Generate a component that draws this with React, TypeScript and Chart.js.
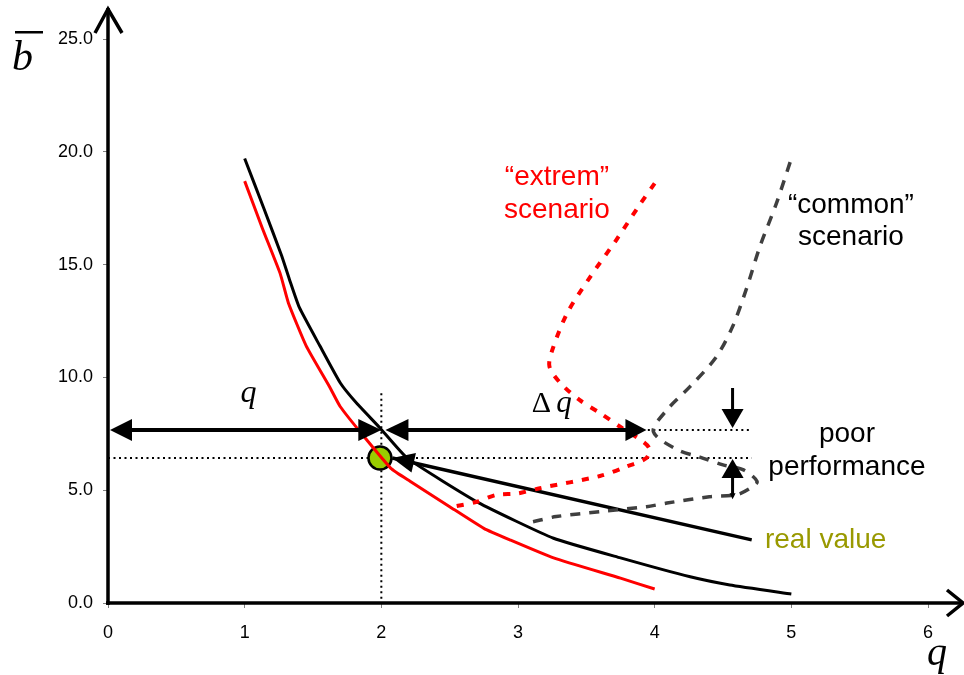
import React, { useEffect, useRef } from "react";
import { Chart, registerables } from "chart.js";

Chart.register(...registerables);

// Axis ranges and tick values
const xTicks = [0, 1, 2, 3, 4, 5, 6];
const yTicks = [0, 5, 10, 15, 20, 25];

// Main iso-curve (black)
const mainQ = [1.0, 1.14, 1.27, 1.33, 1.4, 1.55, 1.7, 1.82, 1.99, 2.19, 2.71, 3.26, 3.75, 4.26, 4.55, 5.0];
const mainB = [19.7, 17.5, 15.4, 14.3, 13.1, 11.4, 9.75, 8.85, 7.76, 6.42, 4.45, 2.87, 2.0, 1.16, 0.8, 0.4];

// Lower curve (red)
const lowQ = [1.0, 1.13, 1.26, 1.32, 1.45, 1.62, 1.7, 1.87, 2.07, 2.21, 2.5, 2.75, 2.94, 3.26, 3.75, 4.0];
const lowB = [18.7, 16.6, 14.6, 13.3, 11.4, 9.6, 8.7, 7.4, 5.97, 5.4, 4.27, 3.31, 2.8, 2.0, 1.1, 0.62];

// Real value line
const realQ = [2.08, 4.71];
const realB = [6.43, 2.8];

// "extrem" scenario (red dashed)
const extremQ = [4.0, 3.89, 3.72, 3.53, 3.36, 3.25, 3.23, 3.31, 3.45, 3.6, 3.75, 3.88, 3.96, 3.94, 3.79, 3.6, 3.16, 3.0, 2.84, 2.7, 2.53];
const extremB = [18.6, 17.65, 16.1, 14.47, 12.85, 11.2, 10.48, 9.75, 9.0, 8.42, 7.8, 7.3, 6.87, 6.43, 6.04, 5.63, 5.09, 4.86, 4.79, 4.49, 4.27];

// "common" scenario (grey dashed)
const commonQ = [3.11, 3.28, 3.6, 3.94, 4.09, 4.4, 4.6, 4.7, 4.75, 4.65, 4.5, 4.33, 4.17, 3.99, 4.09, 4.26, 4.45, 4.57, 4.67, 4.77, 4.89, 5.0];
const commonB = [3.6, 3.83, 4.05, 4.27, 4.43, 4.71, 4.8, 5.09, 5.38, 5.9, 6.12, 6.47, 6.78, 7.6, 8.56, 9.6, 10.9, 12.25, 13.9, 15.8, 17.7, 19.7];

// Operating point
const pointQ = [1.99];
const pointB = [6.43];

// Reference levels
const qLevel = 2.0;
const bTarget = 7.67;
const bReal = 6.43;
const qScenario = 3.95;
const gapQ = 4.57;
const guideEndQ = 4.71;

const SANS = '"Liberation Sans", Arial, sans-serif';
const SERIF = '"Liberation Serif", "Times New Roman", serif';

const toPts = (xs: number[], ys: number[]) => xs.map((x, i) => ({ x, y: ys[i] }));

function headAt(ctx: CanvasRenderingContext2D, tx: number, ty: number, ang: number, len: number, half: number) {
  const c = Math.cos(ang), s = Math.sin(ang);
  ctx.beginPath();
  ctx.moveTo(tx, ty);
  ctx.lineTo(tx - len * c - half * s, ty - len * s + half * c);
  ctx.lineTo(tx - len * c + half * s, ty - len * s - half * c);
  ctx.closePath();
  ctx.fill();
}

const overlay = {
  id: "overlay",
  beforeDatasetsDraw(chart: any) {
    const { ctx, scales } = chart;
    const X = (v: number) => scales.x.getPixelForValue(v);
    const Y = (v: number) => scales.y.getPixelForValue(v);
    ctx.save();
    ctx.strokeStyle = "#000";
    ctx.lineWidth = 2;
    ctx.setLineDash([2, 3.5]);
    ctx.beginPath();
    ctx.moveTo(X(0), Y(bReal));
    ctx.lineTo(X(guideEndQ), Y(bReal));
    ctx.moveTo(X(qScenario), Y(bTarget));
    ctx.lineTo(X(guideEndQ), Y(bTarget));
    ctx.moveTo(X(qLevel), Y(9.3));
    ctx.lineTo(X(qLevel), Y(0));
    ctx.stroke();
    ctx.restore();
  },
  afterDatasetsDraw(chart: any) {
    const { ctx, scales } = chart;
    const X = (v: number) => scales.x.getPixelForValue(v);
    const Y = (v: number) => scales.y.getPixelForValue(v);
    ctx.save();
    ctx.fillStyle = "#000";
    ctx.strokeStyle = "#000";

    // q double arrow
    const yT = Y(bTarget);
    ctx.lineWidth = 4;
    ctx.beginPath();
    ctx.moveTo(X(0) + 10, yT);
    ctx.lineTo(X(qLevel) - 10, yT);
    ctx.stroke();
    headAt(ctx, X(0) + 2, yT, Math.PI, 22, 11);
    headAt(ctx, X(qLevel), yT, 0, 23, 11);

    // delta q double arrow
    ctx.beginPath();
    ctx.moveTo(X(2.03) + 10, yT);
    ctx.lineTo(X(3.94) - 10, yT);
    ctx.stroke();
    headAt(ctx, X(2.03), yT, Math.PI, 23, 11);
    headAt(ctx, X(3.94), yT, 0, 21, 11);

    // arrow head on the real value line
    const ax = X(realQ[0]), ay = Y(realB[0]);
    const bx = X(realQ[1]), by = Y(realB[1]);
    headAt(ctx, ax, ay, Math.atan2(ay - by, ax - bx), 22, 10);

    // vertical gap arrows
    ctx.lineWidth = 3;
    const gx = X(gapQ);
    ctx.beginPath();
    ctx.moveTo(gx, Y(9.53));
    ctx.lineTo(gx, yT - 8);
    ctx.moveTo(gx, Y(bReal) + 8);
    ctx.lineTo(gx, Y(4.72));
    ctx.stroke();
    headAt(ctx, gx, yT - 2, Math.PI / 2, 19, 11);
    headAt(ctx, gx, Y(bReal) + 1, -Math.PI / 2, 19, 11);
    headAt(ctx, gx, Y(4.6), Math.PI / 2, 6, 3);

    // labels
    ctx.textAlign = "center";
    ctx.textBaseline = "alphabetic";
    ctx.font = `28px ${SANS}`;
    ctx.fillStyle = "#ff0000";
    ctx.fillText("\u201cextrem\u201d", X(3.285), Y(18.53));
    ctx.fillText("scenario", X(3.285), Y(17.07));
    ctx.fillStyle = "#000";
    ctx.fillText("\u201ccommon\u201d", X(5.436), Y(17.29));
    ctx.fillText("scenario", X(5.436), Y(15.87));
    ctx.fillText("poor", X(5.407), Y(7.14));
    ctx.fillText("performance", X(5.407), Y(5.67));
    ctx.textAlign = "left";
    ctx.fillStyle = "#999900";
    ctx.fillText("real value", X(4.807), Y(2.44));

    ctx.fillStyle = "#000";
    ctx.font = `italic 32px ${SERIF}`;
    ctx.textAlign = "center";
    ctx.fillText("q", X(1.028), Y(8.91));
    ctx.textAlign = "left";
    ctx.font = `30px ${SERIF}`;
    ctx.fillText("\u0394", X(3.1), Y(8.47));
    ctx.font = `italic 31px ${SERIF}`;
    ctx.fillText("q", X(3.28), Y(8.47));
    ctx.restore();
  },
  afterDraw(chart: any) {
    const { ctx, chartArea } = chart;
    const L = chartArea.left, B = chartArea.bottom, T = chartArea.top;
    ctx.save();
    ctx.strokeStyle = "#000";
    ctx.lineWidth = 3.5;
    ctx.lineCap = "butt";
    ctx.beginPath();
    ctx.moveTo(L, B + 2);
    ctx.lineTo(L, T - 31);
    ctx.moveTo(L - 2, B);
    ctx.lineTo(chart.width - 1, B);
    ctx.stroke();
    ctx.lineJoin = "miter";
    ctx.beginPath();
    ctx.moveTo(L - 13, T - 6);
    ctx.lineTo(L, T - 30);
    ctx.lineTo(L + 14, T - 6);
    ctx.moveTo(chart.width - 17, B - 13);
    ctx.lineTo(chart.width - 1, B);
    ctx.lineTo(chart.width - 17, B + 13);
    ctx.stroke();

    // axis titles
    ctx.fillStyle = "#000";
    ctx.font = `italic 42px ${SERIF}`;
    ctx.textAlign = "left";
    ctx.textBaseline = "alphabetic";
    ctx.fillText("b", L - 96, T + 31);
    ctx.fillRect(L - 93, T - 8, 28, 2.5);
    ctx.font = `italic 40px ${SERIF}`;
    ctx.textAlign = "center";
    ctx.fillText("q", chartArea.right + 9, B + 62);
    ctx.restore();
  },
};

export default function App() {
  const ref = useRef<HTMLCanvasElement | null>(null);

  useEffect(() => {
    if (!ref.current) return;
    const line = (data: any, color: string, width: number, dash: number[] = [], tension = 0) => ({
      data,
      showLine: true,
      borderColor: color,
      borderWidth: width,
      borderDash: dash,
      pointRadius: 0,
      tension,
      fill: false,
    });
    const chart = new Chart(ref.current, {
      type: "scatter",
      data: {
        datasets: [
          line(toPts(extremQ, extremB), "#ff0000", 4, [7, 9], 0.3),
          line(toPts(commonQ, commonB), "#3f3f3f", 3.5, [10, 9], 0.3),
          line(toPts(lowQ, lowB), "#ff0000", 3, [], 0.15),
          line(toPts(mainQ, mainB), "#000000", 3, [], 0.15),
          line(toPts(realQ, realB), "#000000", 3.5),
          {
            data: toPts(pointQ, pointB),
            showLine: false,
            pointRadius: 11.5,
            pointHoverRadius: 11.5,
            pointBackgroundColor: "#99cc00",
            pointBorderColor: "#000",
            pointBorderWidth: 2.5,
          },
        ] as any,
      },
      options: {
        animation: false,
        responsive: false,
        events: [],
        layout: { padding: { top: 39, right: 36, left: 0, bottom: 0 } },
        plugins: { legend: { display: false }, tooltip: { enabled: false } },
        scales: {
          x: {
            type: "linear",
            min: xTicks[0],
            max: xTicks[xTicks.length - 1],
            afterFit: (s: any) => { s.height = 72; },
            afterBuildTicks: (s: any) => { s.ticks = xTicks.map((v) => ({ value: v })); },
            border: { display: false },
            grid: { drawOnChartArea: false, drawTicks: true, tickLength: 5, tickColor: "#808080", lineWidth: 1 },
            ticks: { color: "#000", padding: 14, font: { family: SANS, size: 18 }, callback: (v: any) => String(v) },
          },
          y: {
            type: "linear",
            min: yTicks[0],
            max: yTicks[yTicks.length - 1],
            afterFit: (s: any) => { s.width = 108; },
            afterBuildTicks: (s: any) => { s.ticks = yTicks.map((v) => ({ value: v })); },
            border: { display: false },
            grid: { drawOnChartArea: false, drawTicks: true, tickLength: 5, tickColor: "#808080", lineWidth: 1 },
            ticks: { color: "#000", padding: 10, font: { family: SANS, size: 18 }, callback: (v: any) => Number(v).toFixed(1) },
          },
        },
      } as any,
      plugins: [overlay],
    });
    return () => chart.destroy();
  }, []);

  return (
    <div style={{ position: "absolute", left: 0, top: 0, width: 964, height: 675, background: "#fff" }}>
      <canvas ref={ref} width={964} height={675} />
    </div>
  );
}
